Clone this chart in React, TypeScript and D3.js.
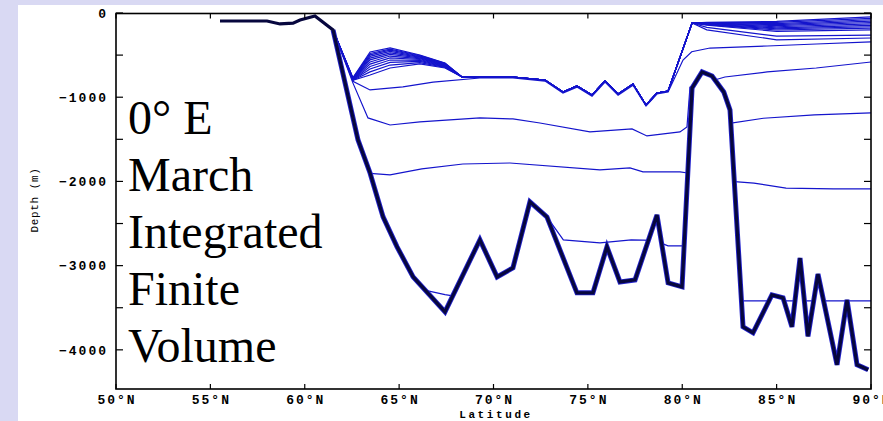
import React from "react";
import * as d3 from "d3";

// ---------- axis / label data ----------
const xTickValues = [50, 55, 60, 65, 70, 75, 80, 85, 90];
const xTickLabels = ["50°N", "55°N", "60°N", "65°N", "70°N", "75°N", "80°N", "85°N", "90°N"];
const yTickValues = [0, -1000, -2000, -3000, -4000];
const yTickLabels = ["0", "−1000", "−2000", "−3000", "−4000"];
const yAllTickValues = [0, -500, -1000, -1500, -2000, -2500, -3000, -3500, -4000];
const titleLines = ["0° E", "March", "Integrated", "Finite", "Volume"];
const xAxisTitle = "Latitude";
const yAxisTitle = "Depth (m)";

// ---------- bathymetry (thick line) ----------
const bottomLat = [55.51, 58.0, 58.69, 59.38, 59.75, 60.54, 61.5, 62.82, 63.46, 64.15, 64.89, 65.74, 67.43,
  69.28, 70.19, 71.03, 71.93, 72.83, 74.42, 75.27, 76.01, 76.7, 77.5, 78.66, 79.25, 79.99, 80.52, 81.05,
  81.58, 82.2, 82.53, 83.22, 83.75, 84.75, 85.34, 85.81, 86.24, 86.66, 87.19, 88.2, 88.73, 89.26, 89.85];
const bottomDepth = [-95, -95, -130, -120, -83, -36, -202, -1507, -1899, -2421, -2777, -3133, -3549,
  -2694, -3134, -3027, -2243, -2421, -3323, -3323, -2777, -3193, -3169, -2398, -3205, -3252, -890, -700,
  -748, -938, -1151, -3727, -3798, -3347, -3383, -3727, -2910, -3840, -3100, -4178, -3407, -4178, -4237];

// ---------- upper layer interfaces (group A) ----------
const fanLat = [61.5, 62.55, 63.46, 64.52, 66.1, 67.43];
const fanDepths = [
  [-202, -770, -463, -415, -499, -593],
  [-202, -773, -480, -428, -505, -597],
  [-202, -776, -497, -442, -511, -601],
  [-202, -779, -515, -457, -518, -606],
  [-202, -782, -535, -473, -525, -611],
  [-202, -785, -557, -491, -533, -616],
  [-202, -788, -581, -511, -542, -622],
  [-202, -791, -607, -533, -552, -628],
  [-202, -794, -635, -558, -563, -634],
  [-202, -796, -665, -586, -575, -640],
  [-202, -798, -699, -618, -589, -646],
  [-202, -800, -736, -653, -605, -653],
];
const zigLat = [68.33, 69.28, 71.03, 72.73, 73.68, 74.42, 75.22, 75.91, 76.6, 77.39, 78.08, 78.66, 79.25];
const zigDepth = [-760, -760, -760, -796, -938, -866, -973, -807, -961, -843, -1092, -950, -926];
const apexLat = [80.52];
const apexDepth = [-119];
const bandLat = [81.3, 85, 90];
const bandDepths = [
  [-112, -100, -47],
  [-115, -112, -63],
  [-118, -125, -80],
  [-121, -138, -96],
  [-124, -150, -113],
  [-127, -163, -130],
  [-131, -176, -146],
  [-135, -189, -163],
  [-139, -202, -180],
  [-145, -218, -200],
  [-170, -275, -262],
  [-200, -318, -297],
];

// ---------- other interfaces ----------
const bLat = [61.5, 62.55, 63.46, 65.2, 66.8, 69.28, 71.03, 72.73, 73.68, 74.42, 75.22, 75.91, 76.6, 77.39,
  78.08, 78.66, 79.25, 80.04, 80.5, 81.47, 84.5, 87.1, 90];
const bDepth = [-202, -810, -914, -878, -820, -772, -772, -808, -952, -880, -987, -821, -975, -857,
  -1104, -962, -938, -558, -460, -416, -392, -368, -344];

const cLat = [61.5, 62.55, 63.35, 64.52, 66.1, 69.28, 71.03, 72.46, 75.11, 77.34, 78.13, 79.88, 80.25, 80.41,
  82.26, 84.5, 87.1, 90];
const cDepth = [-202, -830, -1246, -1330, -1294, -1246, -1258, -1306, -1412, -1377, -1460, -1412, -1353, -880,
  -760, -700, -653, -582];

const dLat = [63.46, 64.52, 66.2, 68.38, 70.87, 75.64, 77.23, 77.92, 79.88, 80.3, 82.6, 83.8, 85.5, 88, 90];
const dDepth = [-1905, -1923, -1850, -1793, -1781, -1864, -1840, -1887, -1887, -1900, -2000, -2020, -2080, -2089, -2089];

const eLat = [72.83, 73.7, 75.64, 77.3, 78.5, 79.25, 80.0, 80.3];
const eDepth = [-2421, -2694, -2730, -2694, -2700, -2766, -2766, -2766];

const fLat = [65.5, 67.43, 69, 83.22, 90];
const fDepth = [-3250, -3345, -3400, -3418, -3418];

const gLat = [82.5, 84.3, 87, 90];
const gDepth = [-1310, -1250, -1210, -1187];

// ---------- layout ----------
const W = 883;
const H = 421;
const plotLeft = 116;
const plotRight = 871;
const plotTop = 13.5;
const plotBottom = 389;

const zip = (lats: number[], deps: number[]): [number, number][] => lats.map((l, i) => [l, deps[i]]);

export default function App() {
  const x = d3.scaleLinear().domain([50, 90]).range([plotLeft, plotRight]);
  const y = d3.scaleLinear().domain([-4465, 0]).range([plotBottom, 13]);

  const line = d3
    .line<[number, number]>()
    .x((d) => x(d[0]))
    .y((d) => y(d[1]));

  const bottomPts = zip(bottomLat, bottomDepth);
  const area = d3
    .area<[number, number]>()
    .x((d) => x(d[0]))
    .y0(y(0))
    .y1((d) => y(d[1]));

  const groupA: [number, number][][] = fanDepths.map((fd, k) => [
    ...zip(fanLat, fd),
    ...zip(zigLat, zigDepth),
    ...zip(apexLat, apexDepth),
    ...zip(bandLat, bandDepths[k]),
  ]);
  const others: [number, number][][] = [
    zip(bLat, bDepth),
    zip(cLat, cDepth),
    zip(dLat, dDepth),
    zip(eLat, eDepth),
    zip(fLat, fDepth),
    zip(gLat, gDepth),
  ];
  const interfaces = [...groupA, ...others];

  const lastPt = bottomPts[bottomPts.length - 1];
  const underlayPts = bottomPts.filter((d) => d[0] >= 61.5);

  const blue = "#1414cc";
  const tickFont = "'Liberation Mono', 'DejaVu Sans Mono', monospace";

  return (
    <div style={{ position: "fixed", left: 0, top: 0 }}>
      <svg width={W} height={H} style={{ display: "block" }}>
        <defs>
          <clipPath id="water">
            <path d={area(bottomPts) || ""} />
            <rect x={x(lastPt[0]) - 0.5} y={y(0)} width={plotRight - x(lastPt[0]) + 0.5} height={y(lastPt[1]) - y(0)} />
          </clipPath>
          <clipPath id="plot">
            <rect x={plotLeft} y={plotTop} width={plotRight - plotLeft} height={plotBottom - plotTop} />
          </clipPath>
        </defs>
        <rect x={0} y={0} width={W} height={H} fill="#d9d9f3" />
        <rect x={18} y={5} width={W - 18} height={H - 5} fill="#ffffff" />

        <g clipPath="url(#plot)">
          <g clipPath="url(#water)">
            {interfaces.map((pts, i) => (
              <path key={i} d={line(pts) || ""} fill="none" stroke={blue} strokeWidth={1.2} />
            ))}
          </g>
          <path
            d={line(underlayPts) || ""}
            fill="none"
            stroke="#2222cc"
            strokeWidth={5}
            strokeLinejoin="miter"
            strokeMiterlimit={4}
          />
          <path
            d={line(bottomPts) || ""}
            fill="none"
            stroke="#07073e"
            strokeWidth={3.2}
            strokeLinejoin="miter"
            strokeMiterlimit={4}
          />
        </g>

        {/* frame */}
        <rect
          x={plotLeft}
          y={plotTop}
          width={plotRight - plotLeft}
          height={plotBottom - plotTop}
          fill="none"
          stroke="#000"
          strokeWidth={1.6}
        />
        {/* x ticks */}
        {xTickValues.map((v) => (
          <g key={"xt" + v}>
            <line x1={x(v)} x2={x(v)} y1={plotBottom} y2={plotBottom - 5} stroke="#000" strokeWidth={1.2} />
            <line x1={x(v)} x2={x(v)} y1={plotTop} y2={plotTop + 5} stroke="#000" strokeWidth={1.2} />
          </g>
        ))}
        {/* y ticks */}
        {yAllTickValues.map((v) => (
          <g key={"yt" + v}>
            <line x1={plotLeft} x2={plotLeft + 7} y1={y(v)} y2={y(v)} stroke="#000" strokeWidth={1.2} />
            <line x1={plotRight} x2={plotRight - 7} y1={y(v)} y2={y(v)} stroke="#000" strokeWidth={1.2} />
          </g>
        ))}
        {/* x tick labels */}
        {xTickValues.map((v, i) => (
          <text
            key={"xl" + v}
            x={x(v) + 1}
            y={403.5}
            textAnchor="middle"
            fontFamily={tickFont}
            fontWeight="bold"
            fontSize={13}
            letterSpacing={2}
            fill="#000"
          >
            {xTickLabels[i]}
          </text>
        ))}
        {/* y tick labels */}
        {yTickValues.map((v, i) => (
          <text
            key={"yl" + v}
            x={108}
            y={y(v)}
            dy="0.36em"
            textAnchor="end"
            fontFamily={tickFont}
            fontWeight="bold"
            fontSize={13}
            letterSpacing={2}
            fill="#000"
          >
            {yTickLabels[i]}
          </text>
        ))}
        <text
          x={496}
          y={417.5}
          textAnchor="middle"
          fontFamily={tickFont}
          fontWeight="bold"
          fontSize={11}
          letterSpacing={2.6}
          fill="#000"
        >
          {xAxisTitle}
        </text>
        <text
          transform="translate(37.5,200) rotate(-90)"
          textAnchor="middle"
          fontFamily={tickFont}
          fontSize={11}
          letterSpacing={0.6}
          fill="#000"
        >
          {yAxisTitle}
        </text>

        {/* big annotation */}
        {titleLines.map((t, i) => (
          <text
            key={"tl" + i}
            x={128}
            y={134 + i * 57}
            fontFamily="'Liberation Serif', 'Times New Roman', serif"
            fontSize={48}
            fill="#000"
          >
            {t}
          </text>
        ))}
      </svg>
    </div>
  );
}
